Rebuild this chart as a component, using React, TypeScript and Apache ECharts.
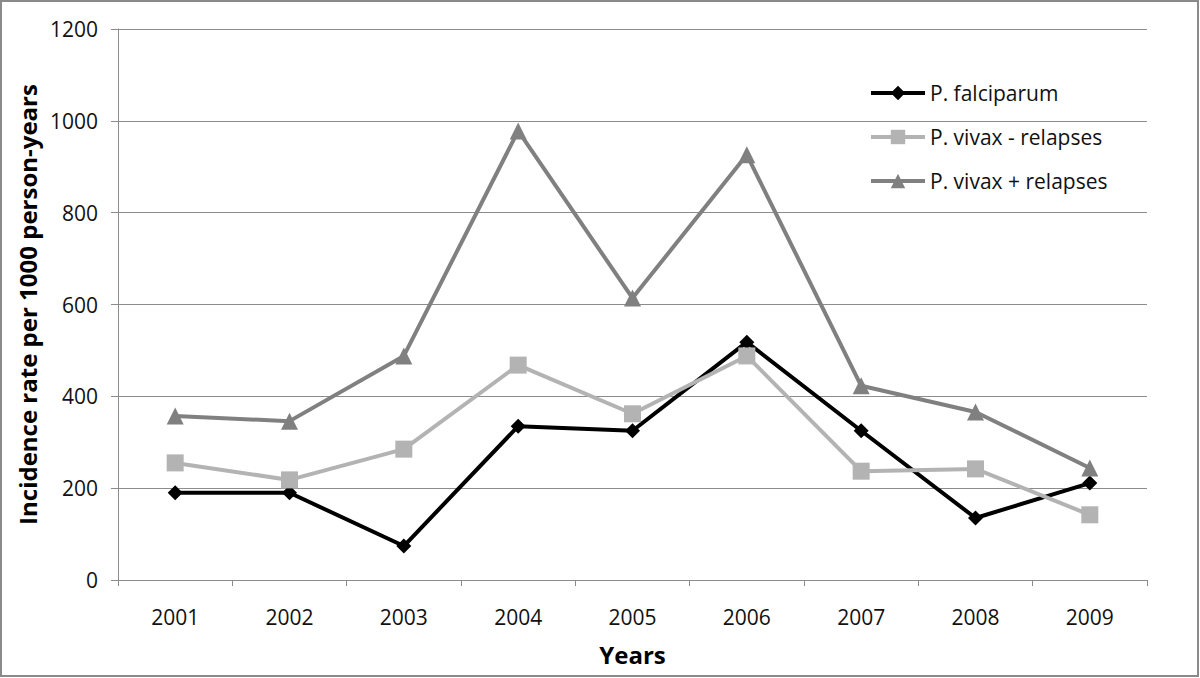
import React, { useEffect, useRef } from "react";
import * as echarts from "echarts";

const years = ["2001", "2002", "2003", "2004", "2005", "2006", "2007", "2008", "2009"];
const falciparum = [190, 190, 74, 335, 325, 518, 325, 135, 211];
const vivaxMinus = [255, 218, 285, 468, 362, 488, 237, 242, 142];
const vivaxPlus = [357, 346, 488, 978, 614, 926, 423, 366, 244];
const seriesNames = ["P. falciparum", "P. vivax - relapses", "P. vivax + relapses"];

const FONT = "Open Sans";

export default function App() {
  const ref = useRef<HTMLDivElement>(null);
  useEffect(() => {
    if (!ref.current) return;
    const chart = echarts.init(ref.current, undefined, { renderer: "svg" });
    chart.setOption({
      animation: false,
      backgroundColor: "#ffffff",
      textStyle: { fontFamily: FONT },
      grid: { left: 118, right: 53, top: 29, bottom: 98, containLabel: false },
      legend: {
        orient: "vertical",
        left: 864,
        top: 77,
        itemWidth: 54,
        itemHeight: 18,
        itemGap: 22,
        lineStyle: { width: 4 },
        textStyle: { fontFamily: FONT, fontSize: 21, color: "#111", lineHeight: 22 },
        data: seriesNames,
      },
      xAxis: {
        type: "category",
        data: years,
        boundaryGap: true,
        name: "Years",
        nameLocation: "middle",
        nameGap: 62,
        nameTextStyle: { fontFamily: FONT, fontSize: 24, fontWeight: "bold", color: "#000" },
        axisLine: { show: true, lineStyle: { color: "#8c8c8c", width: 1 } },
        axisTick: { show: true, length: 6, alignWithLabel: false, lineStyle: { color: "#8c8c8c" } },
        axisLabel: { fontFamily: FONT, fontSize: 21, color: "#111", margin: 26 },
        splitLine: { show: false },
      },
      yAxis: {
        type: "value",
        min: 0,
        max: 1200,
        interval: 200,
        name: "Incidence rate per 1000 person-years",
        nameLocation: "middle",
        nameGap: 72,
        nameTextStyle: { fontFamily: FONT, fontSize: 24, fontWeight: "bold", color: "#000" },
        axisLine: { show: true, lineStyle: { color: "#8c8c8c", width: 1 } },
        axisTick: { show: true, length: 7, inside: false, lineStyle: { color: "#8c8c8c" } },
        axisLabel: {
          fontFamily: FONT,
          fontSize: 21,
          color: "#111",
          margin: 20,
          formatter: (v: number) => String(v),
        },
        splitLine: { show: true, lineStyle: { color: "#8c8c8c", width: 1 } },
      },
      graphic: [
        {
          type: "rect",
          shape: { x: 1, y: 1, width: 1197, height: 675 },
          style: { fill: "none", stroke: "#8a8a8a", lineWidth: 2 },
          silent: true,
        },
      ],
      series: [
        {
          name: seriesNames[0],
          type: "line",
          data: falciparum,
          symbol: "diamond",
          symbolSize: 15,
          lineStyle: { color: "#000000", width: 4 },
          itemStyle: { color: "#000000" },
        },
        {
          name: seriesNames[1],
          type: "line",
          data: vivaxMinus,
          symbol: "rect",
          symbolSize: 17,
          lineStyle: { color: "#b3b3b3", width: 4 },
          itemStyle: { color: "#b3b3b3" },
        },
        {
          name: seriesNames[2],
          type: "line",
          data: vivaxPlus,
          symbol: "triangle",
          symbolSize: 17,
          lineStyle: { color: "#808080", width: 4 },
          itemStyle: { color: "#808080" },
        },
      ],
    });
    return () => chart.dispose();
  }, []);
  return (
    <div
      ref={ref}
      style={{ position: "absolute", left: 0, top: 0, width: 1200, height: 678 }}
    />
  );
}
